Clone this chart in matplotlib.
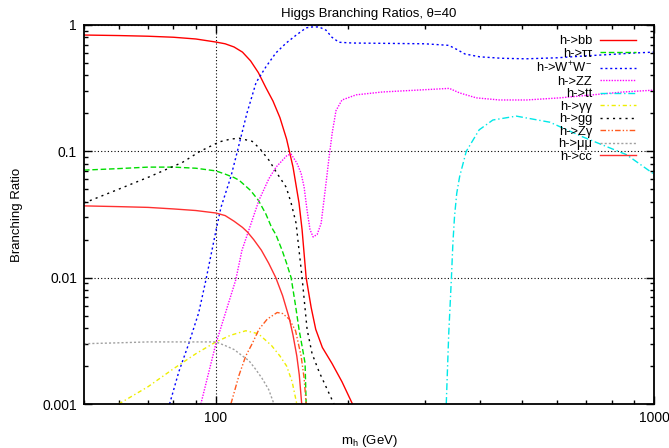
import matplotlib
matplotlib.use("Agg")
import matplotlib.pyplot as plt
from matplotlib.ticker import LogLocator, NullFormatter, FixedLocator, FixedFormatter

plt.rcParams['font.family'] = ['Liberation Sans', 'DejaVu Sans']
plt.rcParams['mathtext.fontset'] = 'custom'
plt.rcParams['mathtext.rm'] = 'Liberation Sans'
plt.rcParams['mathtext.it'] = 'Liberation Sans'

# Higgs mass (GeV) and branching ratio per decay channel
m_bb = [50, 60, 70, 80, 90, 100, 105, 110, 115, 120, 125, 130, 135, 140, 145, 150,
        154.8, 157.3, 160.7, 165, 169, 175, 184, 194, 205]
br_bb = [0.833, 0.825, 0.815, 0.80, 0.775, 0.733, 0.71, 0.67, 0.61, 0.52, 0.42, 0.32,
         0.25, 0.185, 0.125, 0.075, 0.039, 0.024, 0.010, 0.0058, 0.0039, 0.0028,
         0.0021, 0.0015, 0.001]

m_tautau = [50, 60, 70, 80, 90, 100, 105, 110, 113, 120, 125, 130, 134, 137, 141.6,
            145, 148.5, 152, 154.8, 157.5, 159.8, 160.7]
br_tautau = [0.071, 0.073, 0.075, 0.075, 0.0735, 0.070, 0.066, 0.062, 0.059, 0.049,
             0.041, 0.032, 0.025, 0.022, 0.0165, 0.013, 0.010, 0.0060, 0.0039,
             0.0028, 0.0021, 0.001]

m_ww = [78.4, 82.3, 86.7, 91.4, 94.9, 100, 102.7, 108.2, 111.7, 117.7, 120.2, 123.5,
        130, 137, 144.7, 152.4, 160.7, 166, 172, 178.4, 184, 191, 205, 250, 300, 340,
        355, 370, 400, 450, 510, 600, 700, 800, 900, 1000]
br_ww = [0.001, 0.0018, 0.003, 0.0053, 0.0096, 0.0234, 0.036, 0.063, 0.097, 0.20,
         0.255, 0.35, 0.465, 0.60, 0.72, 0.83, 0.95, 0.965, 0.965, 0.91, 0.80, 0.73,
         0.72, 0.715, 0.71, 0.69, 0.64, 0.59, 0.56, 0.545, 0.54, 0.55, 0.57, 0.585,
         0.60, 0.61]

m_zz = [92.4, 100, 111, 114.7, 119, 125.4, 132.2, 137.2, 145.4, 148.5, 153, 156.5,
        159, 161.5, 164, 166.7, 170.3, 173.9, 178.4, 181.3, 184.3, 188, 194, 209, 240,
        287, 341, 360, 393, 444, 512, 610, 724, 850, 1000]
br_zz = [0.001, 0.003, 0.0096, 0.0165, 0.024, 0.041, 0.061, 0.075, 0.093, 0.095,
         0.081, 0.067, 0.052, 0.034, 0.024, 0.021, 0.022, 0.027, 0.056, 0.09, 0.14,
         0.21, 0.255, 0.28, 0.295, 0.305, 0.315, 0.29, 0.265, 0.255, 0.255, 0.265,
         0.28, 0.295, 0.305]

m_tt = [335.6, 340, 344.8, 347.5, 350.5, 354.6, 360, 372.8, 399, 428.8, 485, 578.6,
        688, 866, 1000]
br_tt = [0.001, 0.0036, 0.0099, 0.0187, 0.0305, 0.0465, 0.063, 0.10, 0.148, 0.177,
         0.19, 0.17, 0.13, 0.094, 0.066]

m_gamgam = [60, 70, 80, 90, 100, 108, 117, 125, 134, 140, 145, 149.3, 153]
br_gamgam = [0.001, 0.00137, 0.0019, 0.0025, 0.0031, 0.0035, 0.0038, 0.0036, 0.0029,
             0.0024, 0.0020, 0.0015, 0.001]

m_gg = [50, 59, 70.6, 84, 92, 102, 108, 113, 121, 126, 132.2, 137.9, 144.7, 148.5,
        152.4, 154.8, 157.3, 161.5, 165.8, 172, 186]
br_gg = [0.039, 0.049, 0.063, 0.082, 0.10, 0.119, 0.125, 0.127, 0.12, 0.105, 0.085,
         0.067, 0.052, 0.039, 0.027, 0.0165, 0.010, 0.0039, 0.0025, 0.0018, 0.001]

m_zgam = [108.2, 113, 117, 121, 125.4, 131, 138, 142, 147, 152, 156.5, 159, 160.7]
br_zgam = [0.001, 0.0017, 0.0024, 0.003, 0.0039, 0.0047, 0.0053, 0.0052, 0.0047,
           0.0038, 0.0024, 0.0016, 0.001]

m_mumu = [50, 60, 70, 80, 90, 100, 105, 110, 115, 119, 123, 127.4, 132, 135.7]
br_mumu = [0.0030, 0.00305, 0.0031, 0.0031, 0.0031, 0.0031, 0.0029, 0.0027, 0.0024,
           0.0022, 0.0019, 0.0016, 0.0013, 0.001]

m_cc = [50, 60, 70, 80, 90, 100, 105, 110, 115, 118, 122, 127, 132, 137, 142, 147,
        150, 153, 155, 157]
br_cc = [0.037, 0.0365, 0.036, 0.035, 0.034, 0.0325, 0.031, 0.028, 0.025, 0.023,
         0.020, 0.0165, 0.013, 0.010, 0.0072, 0.0048, 0.0035, 0.0024, 0.0017, 0.001]

channels = [
    ("h->bb", m_bb, br_bb, "#ff0000", "-"),
    ("h->ττ", m_tautau, br_tautau, "#00dd00", (0, (4, 2))),
    ("h->W$^{+}$W$^{-}$", m_ww, br_ww, "#0000ff", (0, (1.5, 2))),
    ("h->ZZ", m_zz, br_zz, "#ff00ff", (0, (1, 1))),
    ("h->tt", m_tt, br_tt, "#00e8e8", (0, (5, 2, 1, 2))),
    ("h->γγ", m_gamgam, br_gamgam, "#eeee00", (0, (3, 2, 1, 2))),
    ("h->gg", m_gg, br_gg, "#000000", (0, (1.5, 3))),
    ("h->Zγ", m_zgam, br_zgam, "#ff5a1e", (0, (4, 1.5, 1, 1.5, 1, 1.5))),
    ("h->μμ", m_mumu, br_mumu, "#a0a0a0", (0, (1.5, 1.5))),
    ("h->cc", m_cc, br_cc, "#ff3030", "-"),
]

fig = plt.figure(figsize=(6.69, 4.48), dpi=100)
ax = fig.add_axes([84 / 669, 44 / 448, 570 / 669, 379 / 448])

for label, m, br, color, ls in channels:
    ax.plot(m, br, color=color, linestyle=ls, linewidth=1.0, label=label)

ax.set_xscale("log")
ax.set_yscale("log")
ax.set_xlim(50, 1000)
ax.set_ylim(0.001, 1)

ax.xaxis.set_major_locator(FixedLocator([100, 1000]))
ax.xaxis.set_major_formatter(FixedFormatter(["100", "1000"]))
ax.xaxis.set_minor_locator(LogLocator(base=10, subs=range(2, 10)))
ax.xaxis.set_minor_formatter(NullFormatter())
ax.yaxis.set_major_locator(FixedLocator([0.001, 0.01, 0.1, 1]))
ax.yaxis.set_major_formatter(FixedFormatter(["0.001", "0.01", "0.1", "1"]))
ax.yaxis.set_minor_locator(LogLocator(base=10, subs=range(2, 10)))
ax.yaxis.set_minor_formatter(NullFormatter())

ax.tick_params(which="both", direction="in", top=True, right=True, labelsize=10,
               color="black")
ax.tick_params(which="major", length=6, width=1, pad=5)
ax.tick_params(which="minor", length=3, width=1)
for sp in ax.spines.values():
    sp.set_linewidth(1.3)

ax.grid(True, which="major", linestyle=(0, (1, 2)), color="black", linewidth=0.8)

ax.set_title("Higgs Branching Ratios, θ=40", fontsize=9.5, pad=6)
ax.set_xlabel("m$_h$ (GeV)", fontsize=9.5, labelpad=6)
ax.set_ylabel("Branching Ratio", fontsize=9.5, labelpad=14)

leg = ax.legend(loc="upper right", bbox_to_anchor=(1 - 18 / 570, 1 - 10 / 379),
                frameon=False, markerfirst=False, fontsize=9.3,
                handlelength=2.8, labelspacing=0.035, handletextpad=0.6,
                borderaxespad=0.0, borderpad=0.0)
for t in leg.get_texts():
    t.set_ha("right")
leg._legend_box.align = "right"

fig.savefig("out.png", dpi=100)
